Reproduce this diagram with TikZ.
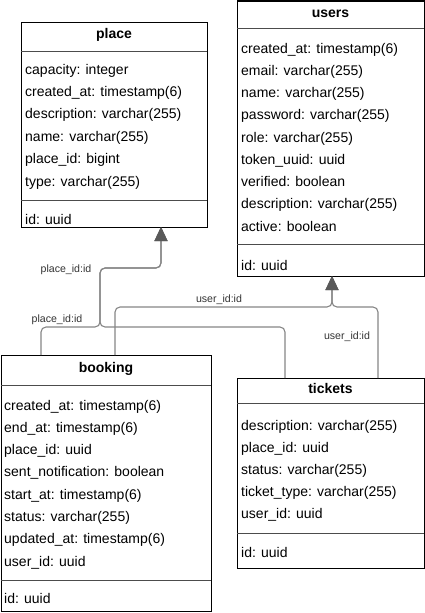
\documentclass[tikz,border=0pt]{standalone}
\usepackage{fontspec}
\setmainfont{Liberation Sans}
\usetikzlibrary{arrows.meta,calc}
\definecolor{linegray}{HTML}{858585}
\definecolor{tipgray}{HTML}{595959}
\definecolor{labelgray}{HTML}{333333}
\begin{document}
\begin{tikzpicture}[x=1pt,y=-1pt,
 tbl/.style={draw=black, line width=1pt, anchor=north west, inner sep=0pt, outer sep=0pt},
 sepline/.style={draw=black!70, line width=0.8pt},
 field/.style={anchor=base west, inner sep=0pt, font=\fontsize{14}{16}\selectfont},
 ttl/.style={anchor=base, inner sep=0pt, font=\bfseries\fontsize{14}{16}\selectfont},
 conn/.style={draw=linegray, line width=1.1pt, rounded corners=5pt},
 tip/.style={-{Triangle[width=13pt,length=14pt,fill=tipgray,color=tipgray]}},
 lbl/.style={font=\fontsize{10.6}{12}\selectfont, text=labelgray, inner sep=1pt}
]
\useasboundingbox (0,0) rectangle (425,613);

% ---------- place ----------
\node[tbl, minimum width=186pt, minimum height=205pt] (place) at (21,22) {};
\node[ttl] (placeT) at (114,38) {place};
\draw[sepline] ($(place.north west)+(0,29)$) -- ++(186,0);
\foreach \t [count=\i from 0] in {capacity: integer, created\_at: timestamp(6), description: varchar(255), name: varchar(255), place\_id: bigint, type: varchar(255)}
  \node[field] (placeF\i) at (25,74+22.4*\i) {\t};
\draw[sepline] ($(place.north west)+(0,178)$) -- ++(186,0);
\node[field] (placeId) at (25,224) {id: uuid};

% ---------- users ----------
\node[tbl, minimum width=187pt, minimum height=275pt] (users) at (237,1) {};
\node[ttl] (usersT) at (330.5,17) {users};
\draw[sepline] ($(users.north west)+(0,27)$) -- ++(187,0);
\foreach \t [count=\i from 0] in {created\_at: timestamp(6), email: varchar(255), name: varchar(255), password: varchar(255), role: varchar(255), token\_uuid: uuid, verified: boolean, description: varchar(255), active: boolean}
  \node[field] (usersF\i) at (241,53+22.25*\i) {\t};
\draw[sepline] ($(users.north west)+(0,243)$) -- ++(187,0);
\node[field] (usersId) at (241,270) {id: uuid};

% ---------- booking ----------
\node[tbl, minimum width=210pt, minimum height=256pt] (booking) at (1,355) {};
\node[ttl] (bookingT) at (106,372) {booking};
\draw[sepline] ($(booking.north west)+(0,30)$) -- ++(210,0);
\foreach \t [count=\i from 0] in {created\_at: timestamp(6), end\_at: timestamp(6), place\_id: uuid, sent\_notification: boolean, start\_at: timestamp(6), status: varchar(255), updated\_at: timestamp(6), user\_id: uuid}
  \node[field] (bookingF\i) at (4,410+22.3*\i) {\t};
\draw[sepline] ($(booking.north west)+(0,225)$) -- ++(210,0);
\node[field] (bookingId) at (4,603) {id: uuid};

% ---------- tickets ----------
\node[tbl, minimum width=187pt, minimum height=190pt] (tickets) at (237,378) {};
\node[ttl] (ticketsT) at (330.5,393) {tickets};
\draw[sepline] ($(tickets.north west)+(0,25)$) -- ++(187,0);
\foreach \t [count=\i from 0] in {description: varchar(255), place\_id: uuid, status: varchar(255), ticket\_type: varchar(255), user\_id: uuid}
  \node[field] (ticketsF\i) at (241,430+22*\i) {\t};
\draw[sepline] ($(tickets.north west)+(0,155)$) -- ++(187,0);
\node[field] (ticketsId) at (241,557) {id: uuid};

% ---------- connectors ----------
\coordinate (placeJoin) at (100,268);
\draw[conn,tip] ([xshift=40pt]booking.north west) -- ++(0,-28) -| (placeJoin) -| ([xshift=140pt]place.south west);
\draw[conn,tip] ([xshift=48pt]tickets.north west) -- ++(0,-51) -| (placeJoin) -| ([xshift=140pt]place.south west);
\draw[conn,tip] ([xshift=114pt]booking.north west) -- ++(0,-48) -| ([xshift=95pt]users.south west);
\draw[conn,tip] ([xshift=141pt]tickets.north west) -- ++(0,-71) -| ([xshift=95pt]users.south west);

% ---------- labels ----------
\node[lbl] (lbl1) at (66,270) {place\_id:id};
\node[lbl] (lbl2) at (57,320) {place\_id:id};
\node[lbl] (lbl3) at (219,300) {user\_id:id};
\node[lbl] (lbl4) at (347,337) {user\_id:id};
\end{tikzpicture}
\end{document}
